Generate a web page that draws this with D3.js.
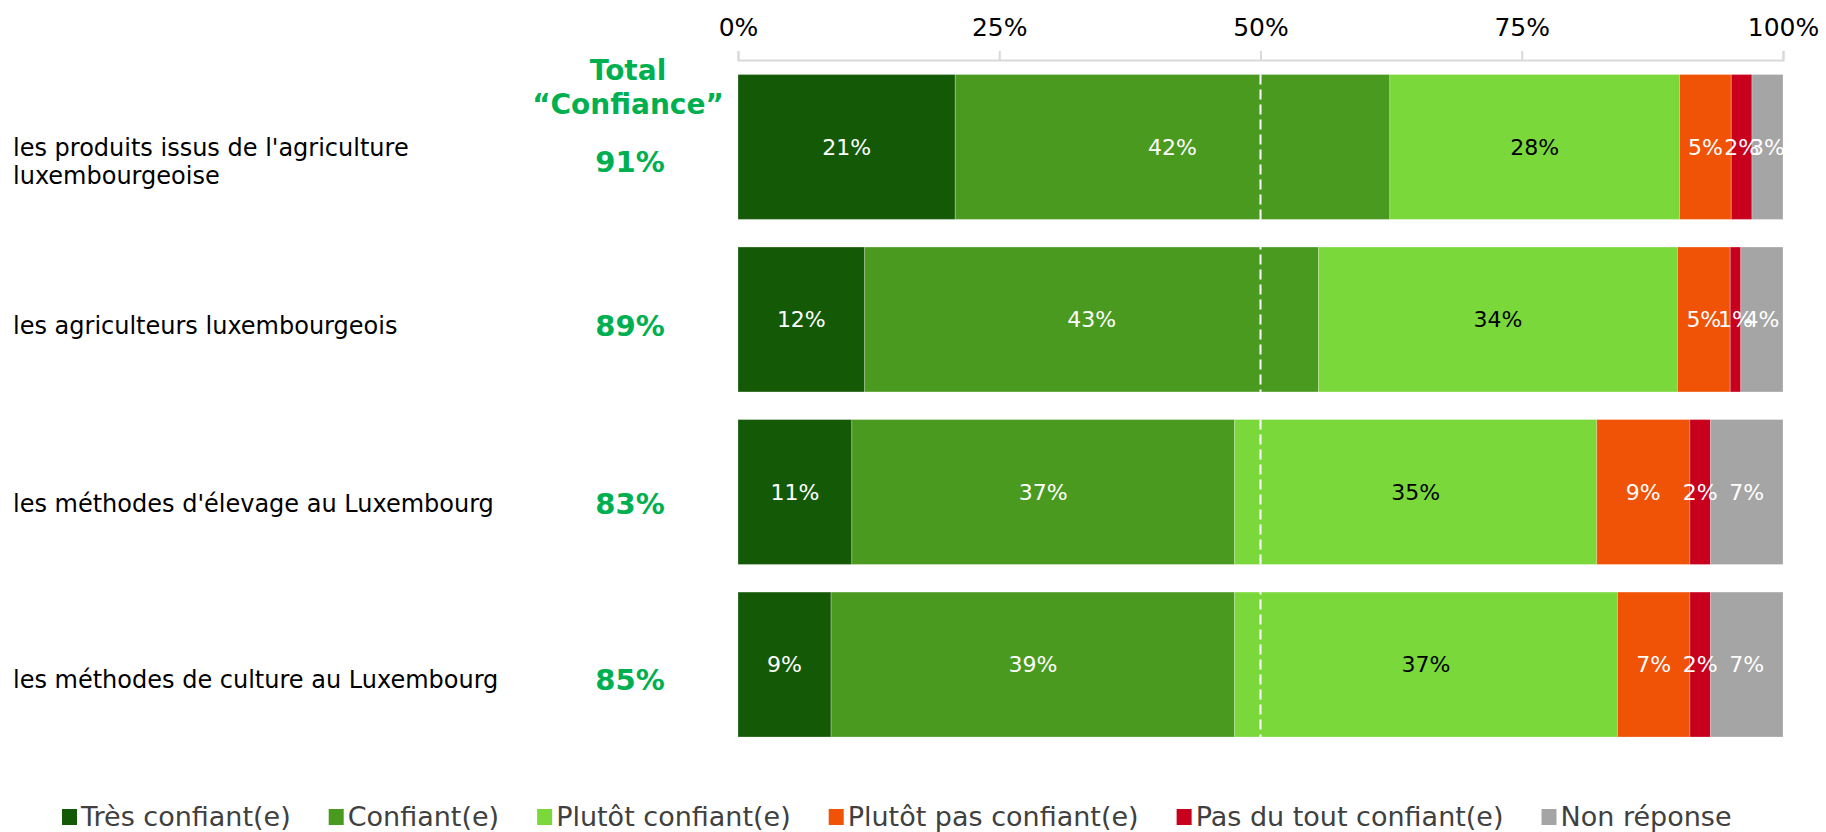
<!DOCTYPE html>
<html>
<head>
<meta charset="utf-8">
<script src="https://cdn.jsdelivr.net/npm/d3@7"></script>
<style>
  body { margin: 0; background: #fff; }
  svg { display: block; font-family: "DejaVu Sans", Verdana, sans-serif; }
</style>
</head>
<body>
<div id="chart"></div>
<script>
// categories (one array of lines per row)
var categories = [
    ["les produits issus de l'agriculture", "luxembourgeoise"],
    ["les agriculteurs luxembourgeois"],
    ["les méthodes d'élevage au Luxembourg"],
    ["les méthodes de culture au Luxembourg"]
];
var seriesNames = ["Très confiant(e)", "Confiant(e)", "Plutôt confiant(e)",
                   "Plutôt pas confiant(e)", "Pas du tout confiant(e)", "Non réponse"];

// values in %
var tresConfiant   = [21, 12, 11, 9];
var confiant       = [42, 43, 37, 39];
var plutotConfiant = [28, 34, 35, 37];
var plutotPas      = [5, 5, 9, 7];
var pasDuTout      = [2, 1, 2, 2];
var nonReponse     = [3, 4, 7, 7];
var totalConfiance = [91, 89, 83, 85];
var tickValues = [0, 0.25, 0.5, 0.75, 1];

var colors = ["#145a06", "#4a9a1f", "#7ad83a", "#f05206", "#c8001e", "#a5a5a5"];
var labelColors = ["#fff", "#fff", "#000", "#fff", "#fff", "#fff"];

function main() {
    var W = 1826, H = 832;
    var svg = d3.select("#chart").append("svg")
        .attr("width", W)
        .attr("height", H);

    // build the table for d3.stack
    var cols = [tresConfiant, confiant, plutotConfiant, plutotPas, pasDuTout, nonReponse];
    var table = categories.map(function (c, i) {
        var row = {cat: i};
        seriesNames.forEach(function (s, k) { row[s] = cols[k][i]; });
        return row;
    });

    // rows don't always add to 100 (rounding), so expand each to the full width
    var stacked = d3.stack()
        .keys(seriesNames)
        .offset(d3.stackOffsetExpand)(table);

    var x = d3.scaleLinear().domain([0, 1]).range([738, 1783]);
    var y = d3.scaleBand()
        .domain(d3.range(categories.length))
        .range([74.5, 737])
        .paddingInner(0.16)
        .paddingOuter(0);

    // top axis
    var axis = svg.append("g")
        .attr("transform", "translate(0,60)")
        .call(d3.axisTop(x)
            .tickValues(tickValues)
            .tickFormat(d3.format(".0%"))
            .tickSize(9)
            .tickSizeOuter(9)
            .tickPadding(15));
    axis.select(".domain").attr("stroke", "#d9d9d9").attr("stroke-width", 2);
    axis.selectAll(".tick line").attr("stroke", "#d9d9d9").attr("stroke-width", 2);
    axis.selectAll(".tick text")
        .attr("fill", "#000")
        .attr("font-size", 25)
        .attr("font-family", "DejaVu Sans, sans-serif");

    // bars
    var layers = svg.append("g").selectAll("g")
        .data(stacked)
        .join("g")
        .attr("fill", function (d, k) { return colors[k]; });

    layers.selectAll("rect")
        .data(function (d) { return d; })
        .join("rect")
        .attr("x", function (d) { return x(d[0]); })
        .attr("width", function (d) { return x(d[1]) - x(d[0]); })
        .attr("y", function (d, i) { return y(i); })
        .attr("height", y.bandwidth())
        .attr("stroke", "#ffffff")
        .attr("stroke-opacity", 0.25)
        .attr("stroke-width", 1);

    // segment labels
    var lbl = svg.append("g").attr("font-size", 22).attr("text-anchor", "middle");
    stacked.forEach(function (layer, k) {
        lbl.selectAll(null)
            .data(layer)
            .join("text")
            .attr("x", function (d) { return (x(d[0]) + x(d[1])) / 2; })
            .attr("y", function (d, i) { return y(i) + y.bandwidth() / 2; })
            .attr("dy", "0.35em")
            .attr("fill", labelColors[k])
            .text(function (d) { return d.data[seriesNames[k]] + "%"; });
    });

    // dashed 50% line
    svg.append("line")
        .attr("x1", x(0.5)).attr("x2", x(0.5))
        .attr("y1", y(0)).attr("y2", y(categories.length - 1) + y.bandwidth())
        .attr("stroke", "#fff")
        .attr("stroke-width", 2)
        .attr("stroke-dasharray", "10,5");

    // category labels
    var labelOffset = [15, 6, 12, 15];
    categories.forEach(function (lines, i) {
        var cy = y(i) + y.bandwidth() / 2 + labelOffset[i];
        var t = svg.append("text")
            .attr("x", 13)
            .attr("font-size", 24)
            .attr("fill", "#000");
        lines.forEach(function (line, j) {
            t.append("tspan")
                .attr("x", 13)
                .attr("y", cy + (j - (lines.length - 1) / 2) * 28)
                .attr("dy", "0.35em")
                .text(line);
        });
    });

    // total confiance column
    var totX = 629;
    var head = svg.append("text")
        .attr("text-anchor", "middle")
        .attr("font-size", 28)
        .attr("font-weight", "bold")
        .attr("fill", "#00b050");
    head.append("tspan").attr("x", totX - 1).attr("y", 70).attr("dy", "0.35em").text("Total");
    head.append("tspan").attr("x", totX - 1).attr("y", 104).attr("dy", "0.35em").text("\u201CConfiance\u201D");

    svg.append("g")
        .selectAll("text")
        .data(totalConfiance)
        .join("text")
        .attr("x", totX + 1)
        .attr("y", function (d, i) { return y(i) + y.bandwidth() / 2 + labelOffset[i]; })
        .attr("dy", "0.35em")
        .attr("text-anchor", "middle")
        .attr("font-size", 29)
        .attr("font-weight", "bold")
        .attr("fill", "#00b050")
        .text(function (d) { return d + "%"; });

    // legend
    var legend = svg.append("g").attr("transform", "translate(62,817)");
    var lx = 0;
    seriesNames.forEach(function (s, k) {
        var g = legend.append("g").attr("transform", "translate(" + lx + ",0)");
        g.append("rect")
            .attr("x", 0).attr("y", -8)
            .attr("width", 15).attr("height", 16)
            .attr("fill", colors[k]);
        var t = g.append("text")
            .attr("x", 19)
            .attr("dy", "0.35em")
            .attr("font-size", 27)
            .attr("fill", "#404040")
            .text(s);
        lx += 19 + t.node().getComputedTextLength() + 38;
    });
}

main();
</script>
</body>
</html>
